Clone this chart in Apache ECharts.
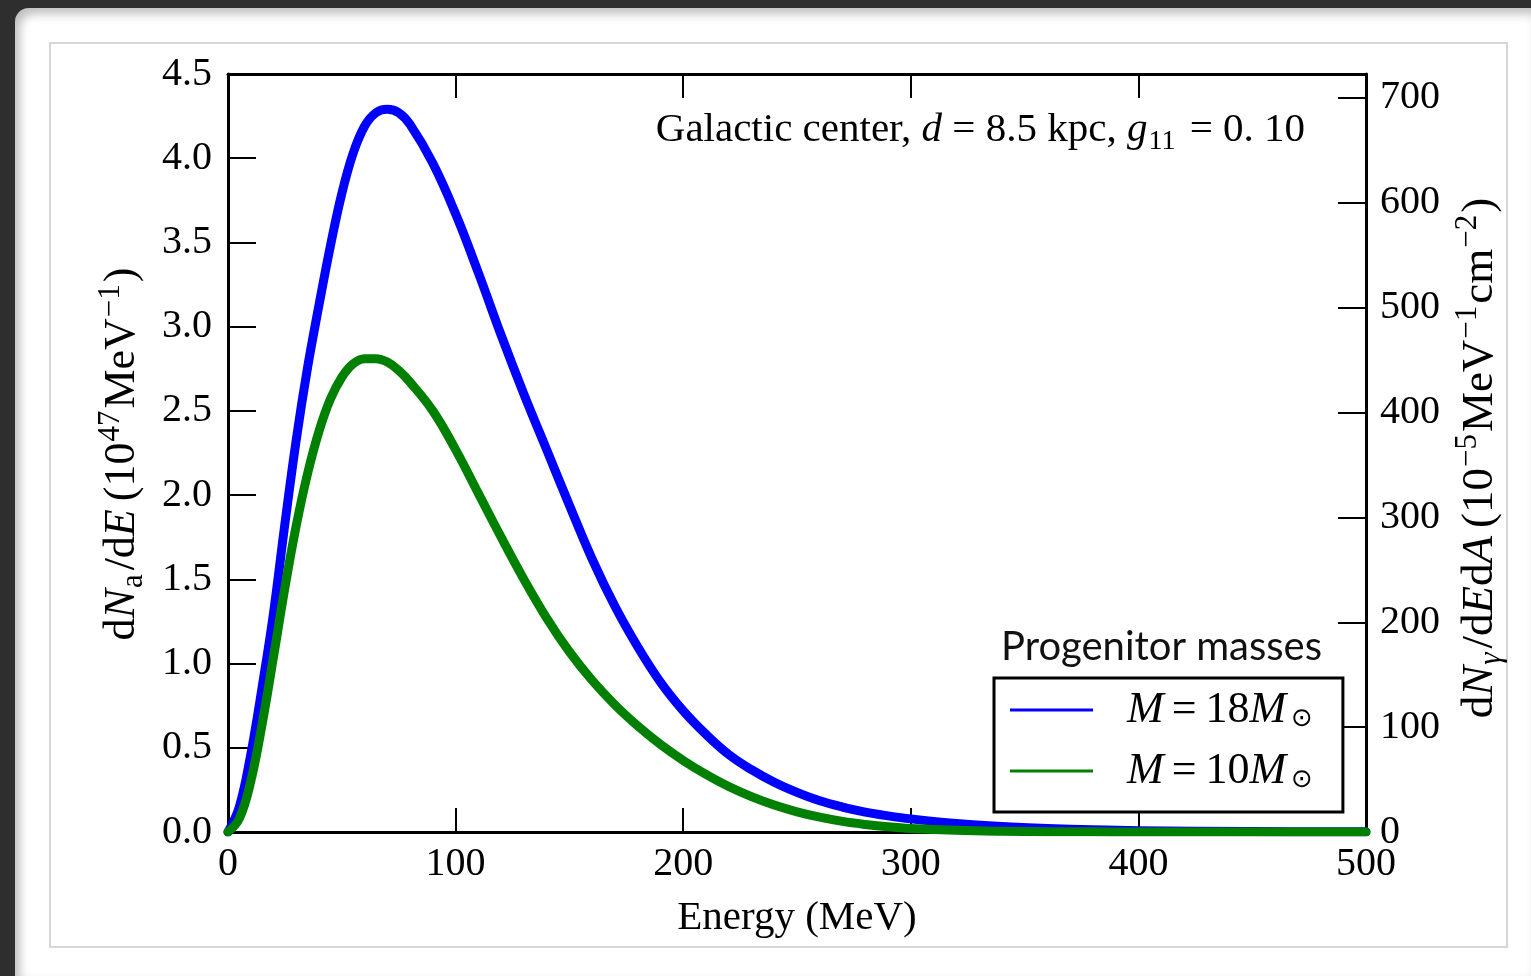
<!DOCTYPE html>
<html>
<head>
<meta charset="utf-8">
<title>Axion and photon spectra, Galactic center</title>
<script src="https://cdn.jsdelivr.net/npm/echarts@6/dist/echarts.min.js"></script>
<style>
  html, body { margin: 0; padding: 0; width: 1531px; height: 976px; overflow: hidden; background: #2e2e2e; }
  #page { position: absolute; left: 15px; top: 8px; right: 0; bottom: 0; background: #fff;
          border-top-left-radius: 14px; box-shadow: inset 5px 6px 10px rgba(0,0,0,0.25); }
  #frame { position: absolute; left: 49px; top: 42px; width: 1455px; height: 902px;
           border: 2px solid #d6d6d6; background: #fff; }
  #chart { position: absolute; left: 0; top: 0; width: 1531px; height: 976px; }
</style>
</head>
<body>
<div id="page"></div>
<div id="frame"></div>
<div id="chart"></div>
<script>
// Energy grid (MeV) and the two axion spectra dN_a/dE in units of 1e47 MeV^-1
const energyMeV = [0, 5, 10, 15, 20, 25, 30, 35, 40, 45, 50, 55, 60, 65, 70, 75, 80,
  90, 100, 110, 120, 130, 140, 150, 160, 170, 180, 190, 200, 210, 220, 230, 240, 250, 260, 270, 280, 290, 300,
  320, 340, 360, 380, 400, 450, 500];

const spectrumM18 = [0, 0.15, 0.46, 0.86, 1.30, 1.83, 2.33, 2.76, 3.13, 3.48, 3.79, 4.03, 4.19, 4.27, 4.29, 4.27, 4.20,
  3.97, 3.67, 3.32, 2.95, 2.60, 2.27, 1.94, 1.62, 1.34, 1.10, 0.89, 0.72, 0.58, 0.46, 0.37, 0.295, 0.235, 0.185, 0.148, 0.118, 0.096, 0.078,
  0.051, 0.033, 0.021, 0.013, 0.008, 0.003, 0.001];

const spectrumM10 = [0, 0.08, 0.30, 0.64, 1.04, 1.45, 1.82, 2.13, 2.38, 2.57, 2.70, 2.78, 2.81, 2.81, 2.79, 2.74, 2.67,
  2.50, 2.27, 2.01, 1.75, 1.50, 1.27, 1.07, 0.90, 0.755, 0.63, 0.52, 0.425, 0.342, 0.27, 0.21, 0.16, 0.12, 0.088, 0.063, 0.045, 0.031, 0.021,
  0.010, 0.0045, 0.002, 0.001, 0.0005, 0.0001, 0];

const seriesNames = ['M = 18 M⊙', 'M = 10 M⊙'];
const massLabels = ['18', '10'];

// Tick values
const xTicks = [0, 100, 200, 300, 400, 500];
const leftTicks = [0, 0.5, 1.0, 1.5, 2.0, 2.5, 3.0, 3.5, 4.0, 4.5];
const rightTicks = [0, 100, 200, 300, 400, 500, 600, 700];
const leftMax = 4.5;
const rightMax = 722.8;   // photon-flux scale matching the top of the left axis

const serif = "'Liberation Serif', 'Times New Roman', 'DejaVu Serif', serif";
const sans = "Lato, 'Open Sans', 'DejaVu Sans', sans-serif";

const chart = echarts.init(document.getElementById('chart'), null, { renderer: 'canvas' });

const spine = { show: true, onZero: false, lineStyle: { color: '#000', width: 3 } };
const tickStyle = (len) => ({ show: true, inside: true, length: len, lineStyle: { color: '#000', width: 2 } });
const tickFont = { fontFamily: serif, fontSize: 40, color: '#000' };

// rich styles for the math-like titles
const mathRich = (size, scriptScale) => {
  const s = Math.round(size * scriptScale);
  return {
    r:    { fontFamily: serif, fontSize: size, lineHeight: size + 10, verticalAlign: 'middle', color: '#000' },
    rp:   { fontFamily: serif, fontSize: size, lineHeight: size + 10, verticalAlign: 'middle', color: '#000', padding: [0, 0, 0, 8] },
    i:    { fontFamily: serif, fontSize: size, fontStyle: 'italic', lineHeight: size + 10, verticalAlign: 'middle', color: '#000' },
    sub:  { fontFamily: serif, fontSize: s, lineHeight: s, verticalAlign: 'bottom', color: '#000', padding: [0, 4, 0, 1] },
    subi: { fontFamily: serif, fontSize: s, fontStyle: 'italic', lineHeight: s, verticalAlign: 'bottom', color: '#000', padding: [0, 4, 0, 1] },
    sup:  { fontFamily: serif, fontSize: s, lineHeight: s, verticalAlign: 'top', color: '#000', padding: [0, 2, 0, 1] }
  };
};

const option = {
  backgroundColor: 'transparent',
  animation: false,
  grid: { left: 228, right: 165, top: 74, bottom: 144, outerBoundsMode: 'none', containLabel: false },
  xAxis: [
    {
      type: 'value', position: 'bottom', min: 0, max: 500, interval: 100,
      axisLine: spine, axisTick: tickStyle(24), splitLine: { show: false },
      axisLabel: { ...tickFont, margin: 12, customValues: xTicks, formatter: v => String(v) }
    },
    {
      type: 'value', position: 'top', min: 0, max: 500, interval: 100,
      axisLine: spine, axisTick: tickStyle(24), splitLine: { show: false },
      axisLabel: { show: false }
    }
  ],
  yAxis: [
    {
      type: 'value', position: 'left', min: 0, max: leftMax, interval: 0.5,
      axisLine: spine, axisTick: tickStyle(28), splitLine: { show: false },
      axisLabel: { ...tickFont, margin: 16, customValues: leftTicks, formatter: v => v.toFixed(1) }
    },
    {
      type: 'value', position: 'right', min: 0, max: rightMax, interval: 100,
      axisLine: spine, splitLine: { show: false },
      axisTick: { ...tickStyle(28), customValues: rightTicks },
      axisLabel: { ...tickFont, margin: 14, customValues: rightTicks, formatter: v => String(Math.round(v)) }
    }
  ],
  legend: {
    orient: 'vertical', left: 994, top: 678,
    data: seriesNames,
    icon: 'rect', itemWidth: 83, itemHeight: 3, itemGap: 17,
    padding: [10, 30, 19, 16],
    borderColor: '#000', borderWidth: 3, borderRadius: 0, backgroundColor: '#fff',
    selectedMode: false,
    formatter: name => {
      const n = massLabels[seriesNames.indexOf(name)];
      return '{m|M}{eq|=}{n|' + n + '}{m2|M}{o|⊙}';
    },
    textStyle: {
      fontFamily: serif, fontSize: 44, color: '#000', lineHeight: 44,
      rich: {
        m:  { fontFamily: serif, fontSize: 44, fontStyle: 'italic', padding: [0, 0, 0, 29], lineHeight: 44, verticalAlign: 'middle' },
        eq: { fontFamily: serif, fontSize: 44, padding: [0, 9, 0, 8], lineHeight: 44, verticalAlign: 'middle' },
        n:  { fontFamily: serif, fontSize: 44, lineHeight: 44, verticalAlign: 'middle' },
        m2: { fontFamily: serif, fontSize: 44, fontStyle: 'italic', lineHeight: 44, verticalAlign: 'middle' },
        o:  { fontFamily: "'DejaVu Sans', sans-serif", fontSize: 26, lineHeight: 20, verticalAlign: 'bottom', padding: [0, 0, 0, 5] }
      }
    }
  },
  graphic: [
    { // legend heading
      type: 'text', left: 1001, top: 627, z: 10,
      style: { text: 'Progenitor masses', fontFamily: sans, fontSize: 40, fill: '#111' }
    },
    { // annotation in the upper right of the plot
      type: 'text', x: 1305, y: 130, z: 10,
      style: {
        text: '{r|Galactic center, }{i|d}{r| = 8.5 kpc, }{i|g}{sub|11}{r| = 0. 10}',
        align: 'right', verticalAlign: 'middle', rich: mathRich(41, 0.68)
      }
    },
    { // x-axis title
      type: 'text', x: 797, y: 918, z: 10,
      style: { text: 'Energy (MeV)', fontFamily: serif, fontSize: 41, fill: '#000', align: 'center', verticalAlign: 'middle' }
    },
    { // left axis title
      type: 'text', x: 122, y: 454, rotation: Math.PI / 2, z: 10,
      style: {
        text: '{r|d}{i|N}{sub|a}{r|/d}{i|E}{rp|(10}{sup|47}{r|MeV}{sup|−1}{r|)}',
        align: 'center', verticalAlign: 'middle', rich: mathRich(44, 0.7)
      }
    },
    { // right axis title
      type: 'text', x: 1480, y: 458, rotation: Math.PI / 2, z: 10,
      style: {
        text: '{r|d}{i|N}{subi|γ}{r|/d}{i|E}{r|d}{i|A}{rp|(10}{sup|−5}{r|MeV}{sup|−1}{r|cm}{sup|−2}{r|)}',
        align: 'center', verticalAlign: 'middle', rich: mathRich(45, 0.7)
      }
    }
  ],
  series: [
    {
      name: seriesNames[0], type: 'line', xAxisIndex: 0, yAxisIndex: 0,
      data: energyMeV.map((e, i) => [e, spectrumM18[i]]),
      symbol: 'none', smooth: 0.4, clip: true, z: 2,
      lineStyle: { color: '#0000ff', width: 9, cap: 'round', join: 'round' },
      itemStyle: { color: '#0000ff' }
    },
    {
      name: seriesNames[1], type: 'line', xAxisIndex: 0, yAxisIndex: 0,
      data: energyMeV.map((e, i) => [e, spectrumM10[i]]),
      symbol: 'none', smooth: 0.4, clip: true, z: 3,
      lineStyle: { color: '#008000', width: 9, cap: 'round', join: 'round' },
      itemStyle: { color: '#008000' }
    }
  ]
};

chart.setOption(option);
</script>
</body>
</html>
